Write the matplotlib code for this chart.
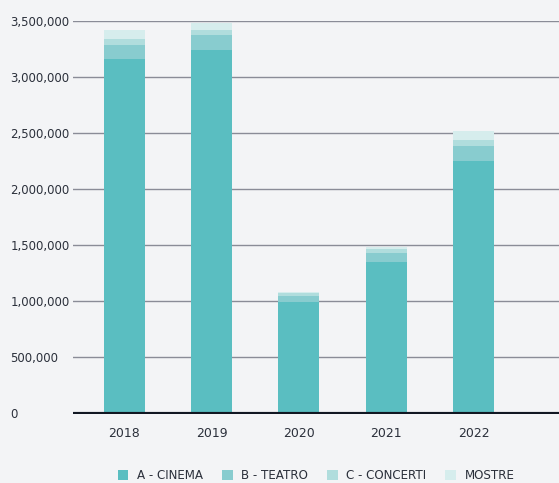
import matplotlib
matplotlib.use("Agg")
import matplotlib.pyplot as plt
import numpy as np

# Data
years = ["2018", "2019", "2020", "2021", "2022"]
cinema = [3160000, 3233000, 992000, 1345000, 2252000]
teatro = [125000, 142000, 56000, 84000, 134000]
concerti = [54000, 36000, 22000, 35000, 54000]
mostre = [80000, 71000, 13000, 20000, 80000]

series = [
    ("A - CINEMA", cinema, "#5abec1"),
    ("B - TEATRO", teatro, "#88cccf"),
    ("C - CONCERTI", concerti, "#b0dddd"),
    ("MOSTRE", mostre, "#d6eded"),
]

bg = "#f3f4f6"
txt = "#2b303b"

plt.rcParams["font.family"] = ["DejaVu Sans"]

fig = plt.figure(figsize=(5.59, 4.83), dpi=100, facecolor=bg)
ax = fig.add_axes([73 / 559, 1 - 413.5 / 483, 1 - 73 / 559, (413.5 - 20.5) / 483])
ax.set_facecolor(bg)

x = np.arange(len(years))
bottom = np.zeros(len(years))
for name, vals, col in series:
    ax.bar(x, vals, width=0.47, bottom=bottom, color=col, label=name, zorder=2)
    bottom += np.array(vals)

ax.set_ylim(0, 3500000)
ax.set_xlim(-0.59, 4.98)

yt = np.arange(0, 3500001, 500000)
ax.set_yticks(yt)
ax.set_yticklabels([f"{v:,}" for v in yt])
for v in yt[1:]:
    ax.axhline(v, color="#8a8c97", lw=1.0, zorder=1)
ax.axhline(0, color="#111722", lw=3, zorder=3)

ax.set_xticks(x)
ax.set_xticklabels(years)

for s in ax.spines.values():
    s.set_visible(False)

ax.tick_params(axis="y", length=0, pad=45, labelsize=8.5, labelcolor=txt)
for lab in ax.get_yticklabels():
    lab.set_horizontalalignment("left")
ax.tick_params(axis="x", length=0, pad=10, labelsize=9, labelcolor=txt)

leg = ax.legend(loc="upper center", bbox_to_anchor=(0.5, -0.115), ncol=4,
                frameon=False, fontsize=8.6, handlelength=0.9, handleheight=0.9,
                handletextpad=0.7, columnspacing=1.6, labelcolor=txt)

fig.savefig("out.png", dpi=100, facecolor=bg)
